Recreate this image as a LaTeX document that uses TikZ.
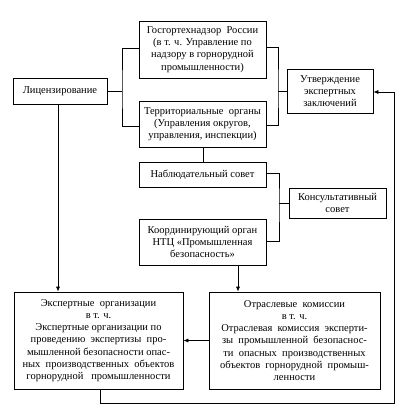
\documentclass[tikz,border=0pt]{standalone}
\usepackage{fontspec}
\setmainfont{Liberation Serif}
\usetikzlibrary{arrows.meta}

\begin{document}
\begin{tikzpicture}[x=1pt,y=-1pt,line width=0.7pt,
		font=\fontsize{10.5}{12.2}\selectfont,
		box/.style={draw, rectangle, align=center, inner sep=1pt},
		arr/.style={-{Latex[length=5pt,width=4pt]}}]
	\useasboundingbox (0,0) rectangle (413,420);
	% upper part
	\node[box, minimum width=127pt, minimum height=57pt] (gosgor)    at (202.5,49.5) {Госгортехнадзор\ \ России\\(в т. ч. Управление по\\надзору в горнорудной\\промышленности)};
	\node[box, minimum width=94pt,  minimum height=26pt] (licenz)    at (60,91)      {Лицензирование};
	\node[box, minimum width=127pt, minimum height=46pt] (territ)    at (202.5,124)  {Территориальные\ \ органы\\(Управления округов,\\управления, инспекции)};
	\node[box, minimum width=86pt,  minimum height=44pt] (utverzh)   at (330,91)     {Утверждение\\экспертных\\заключений};
	\node[box, minimum width=127pt, minimum height=25pt] (nabl)      at (202.5,174.5){Наблюдательный совет};
	\node[box, minimum width=97pt,  minimum height=30pt] (konsult)   at (337.5,203)  {Консультативный\\совет};
	\node[box, minimum width=127pt, minimum height=46pt] (koord)     at (202.5,242)  {Координирующий орган\\НТЦ «Промышленная\\безопасность»};
	% lower part
	\node[box, minimum width=169pt, minimum height=97pt] (ekspert)   at (98.5,340.5) {Экспертные\ \ организации\\в т. ч.\\Экспертные организации по\\проведению\ \ экспертизы\ \ про-\\мышленной безопасности опас-\\ных\ \ производственных\ \ объектов\\горнорудной\ \ \ промышленности};
	\node[box, minimum width=171pt, minimum height=97pt] (otrasl)    at (294.5,340.5){Отраслевые\ \ комиссии\\в т. ч.\\Отраслевая\ \ комиссия\ \ эксперти-\\зы\ \ промышленной\ \ безопаснос-\\ти\ \ опасных\ \ производственных\\объектов\ \ горнорудной\ \ промыш-\\ленности};
	% junctions
	\coordinate (brL) at (122,91);
	\coordinate (brR) at (278,91);
	\coordinate (brK) at (279,203);
	\coordinate (loop1) at (100,403);
	\coordinate (loop2) at (394,403);
	\coordinate (loop3) at (394,92);
	% connectors
	\draw (licenz.east) -- (brL);
	\draw (gosgor.west |- 0,48) -| (brL) |- (territ.west |- 0,126);
	\draw (gosgor.east |- 0,47) -| (brR) |- (territ.east |- 0,125);
	\draw (brR) -- (utverzh.west);
	\draw (territ.south -| 203,0) -- (nabl.north -| 203,0);
	\draw (nabl.east |- 0,173) -| (brK) |- (koord.east |- 0,241);
	\draw (brK) -- (konsult.west);
	\draw[arr] (licenz.south -| 58,0) -- (ekspert.north -| 58,0);
	\draw[arr] (koord.south -| 238,0) -- (otrasl.north -| 238,0);
	\draw[arr] (otrasl.west) -- (ekspert.east);
	\draw[arr] (ekspert.south -| loop1) -- (loop1) -- (loop2) -- (loop3) -- (utverzh.east |- loop3);
\end{tikzpicture}
\end{document}
